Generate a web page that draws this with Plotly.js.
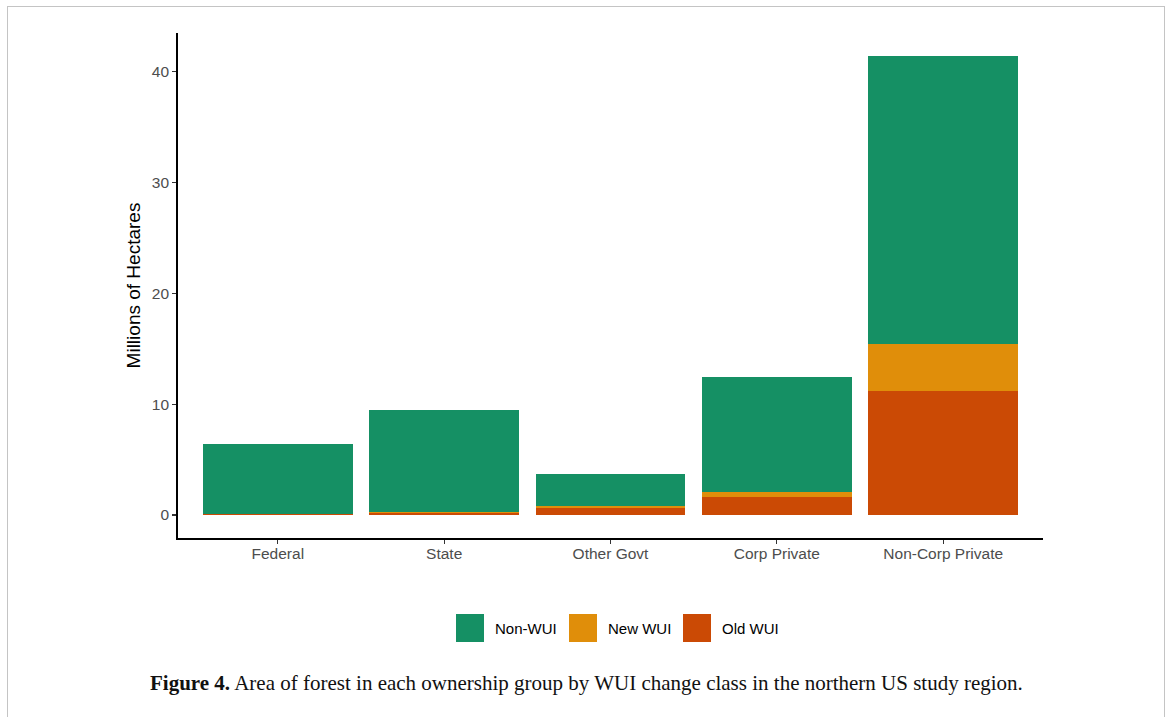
<!DOCTYPE html>
<html>
<head>
<meta charset="utf-8">
<script src="https://cdn.plot.ly/plotly-3.0.1.min.js"></script>
<style>
  html, body { margin: 0; padding: 0; background: #fff; }
  #wrap { position: relative; width: 1170px; height: 717px; overflow: hidden; }
  #chart { position: absolute; left: 0; top: 0; width: 1170px; height: 717px; }
  #frame { position: absolute; left: 7px; top: 6px; width: 1156px; height: 730px;
           border: 1.5px solid #c4c4c4; border-bottom: none; pointer-events: none; }
</style>
</head>
<body>
<div id="wrap">
  <div id="chart"></div>
  <div id="frame"></div>
</div>
<script>
// Ownership groups on the x axis
const owners = ["Federal", "State", "Other Govt", "Corp Private", "Non-Corp Private"];

// Forest area (millions of hectares) by WUI change class
const oldWui = [0.06, 0.20, 0.65, 1.65, 11.20];
const newWui = [0.06, 0.04, 0.15, 0.42, 4.24];
const nonWui = [6.25, 9.22, 2.93, 10.40, 26.00];

const seriesNames = ["Non-WUI", "New WUI", "Old WUI"];
const seriesColors = ["#159064", "#E08E0A", "#CB4A05"];

const yTicks = [0, 10, 20, 30, 40];

const captionBold = "Figure 4.";
const captionText = "Area of forest in each ownership group by WUI change class in the northern US study region.";

// stacked from the bottom: Old WUI, New WUI, Non-WUI
const traces = [
  { name: seriesNames[2], y: oldWui, color: seriesColors[2] },
  { name: seriesNames[1], y: newWui, color: seriesColors[1] },
  { name: seriesNames[0], y: nonWui, color: seriesColors[0] }
].map(s => ({
  type: "bar",
  x: owners,
  y: s.y,
  name: s.name,
  marker: { color: s.color, line: { width: 0 } },
  showlegend: false,
  hoverinfo: "x+y+name"
}));

// plot area geometry (px) used for the hand-drawn legend
const W = 1170, H = 717;
const mL = 178, mR = 127, mT = 33, mB = 179;
const pw = W - mL - mR, ph = H - mT - mB;
const px = v => (v - mL) / pw;
const py = v => (H - mB - v) / ph;

const legendX = [456, 569, 683];
const keySize = 28;
const keyTop = 614;
const shapes = [];
const annotations = [];
seriesNames.forEach((nm, i) => {
  shapes.push({
    type: "rect", xref: "paper", yref: "paper",
    x0: px(legendX[i]), x1: px(legendX[i] + keySize),
    y0: py(keyTop + keySize), y1: py(keyTop),
    fillcolor: seriesColors[i], line: { width: 0 }
  });
  annotations.push({
    xref: "paper", yref: "paper",
    x: px(legendX[i] + keySize + 9), y: py(keyTop + keySize / 2),
    xanchor: "left", yanchor: "middle",
    text: nm, showarrow: false,
    font: { family: "Liberation Sans, Arial, sans-serif", size: 15, color: "#000" }
  });
});

annotations.push({
  xref: "paper", yref: "paper",
  x: px(586), y: py(683),
  xanchor: "center", yanchor: "middle",
  text: "<b>" + captionBold + "</b> " + captionText,
  showarrow: false,
  font: { family: "Liberation Serif, Times New Roman, serif", size: 21, color: "#111" }
});

const layout = {
  width: W, height: H,
  margin: { l: mL, r: mR, t: mT, b: mB, pad: 0 },
  paper_bgcolor: "#fff",
  plot_bgcolor: "#fff",
  barmode: "stack",
  bargap: 0.1,
  font: { family: "Liberation Sans, Arial, sans-serif" },
  xaxis: {
    type: "category",
    range: [-0.6, 4.6],
    showline: true, linecolor: "#000", linewidth: 1.8,
    ticks: "outside", ticklen: 4, tickwidth: 1.2, tickcolor: "#333",
    ticklabelstandoff: -3,
    tickfont: { size: 15.5, color: "#4d4d4d" },
    showgrid: false, zeroline: false
  },
  yaxis: {
    range: [-2.07, 43.5],
    tickvals: yTicks,
    ticktext: yTicks.map(String),
    showline: true, linecolor: "#000", linewidth: 1.8,
    ticks: "outside", ticklen: 4, tickwidth: 1.2, tickcolor: "#333",
    tickfont: { size: 15.5, color: "#4d4d4d" },
    showgrid: false, zeroline: false,
    title: { text: "Millions of Hectares", font: { size: 19, color: "#000" }, standoff: 6 }
  },
  shapes: shapes,
  annotations: annotations
};

Plotly.newPlot("chart", traces, layout, { displayModeBar: false, staticPlot: true });
</script>
</body>
</html>
